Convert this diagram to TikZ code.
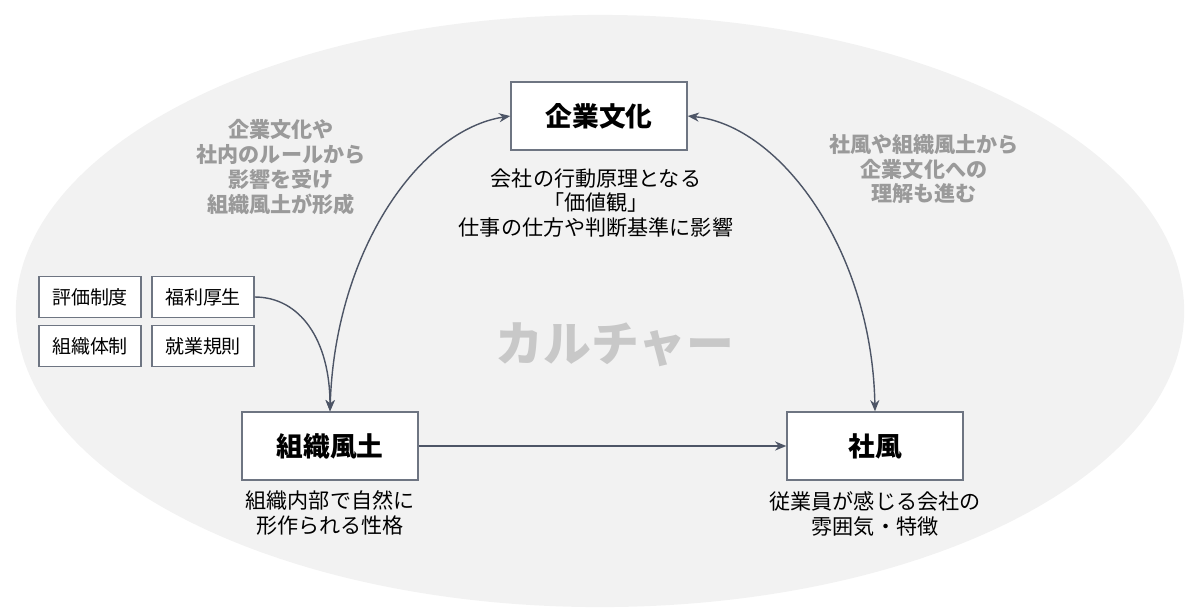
\documentclass[tikz,border=0pt]{standalone}
\usepackage{fontspec}
\setmainfont{Noto Sans CJK JP}
\usetikzlibrary{arrows.meta}
\definecolor{bggray}{HTML}{F2F2F2}
\definecolor{edgegray}{HTML}{6E7582}
\definecolor{linegray}{HTML}{4D5566}
\definecolor{memogray}{HTML}{9A9A9A}
\definecolor{titlegray}{HTML}{C8C8C8}

\begin{document}
\begin{tikzpicture}[x=0.025cm,y=-0.025cm,
    box/.style={draw=edgegray,line width=1pt,fill=white,minimum width=4.4cm,minimum height=1.7cm,font={\fontsize{19}{22}\selectfont\bfseries}},
    tag/.style={draw=edgegray,line width=1pt,fill=white,minimum width=2.55cm,minimum height=1.02cm,font={\fontsize{13.5}{16}\selectfont}},
    desc/.style={align=center,font={\fontsize{15}{17.7}\selectfont}},
    memo/.style={align=center,text=memogray,font={\fontsize{15}{17.7}\selectfont\bfseries}},
    link/.style={draw=linegray,line width=1pt,-{Stealth[length=8pt,width=6.5pt]}},
    twoway/.style={link,{Stealth[length=8pt,width=6.5pt]}-{Stealth[length=8pt,width=6.5pt]}}]
    \useasboundingbox (0,0) rectangle (1200,614);
    \fill[bggray] (600,311) ellipse [x radius=14.6cm, y radius=7.4cm];

    \node[text=titlegray,font={\fontsize{34}{40}\selectfont\bfseries}] (culture) at (615,345) {カルチャー};

    % main boxes
    \node[box] (corp) at (599,116) {企業文化};
    \node[box] (climate) at (330,446) {組織風土};
    \node[box] (shafu) at (875,446) {社風};

    \node[desc] (corpdesc) at (596,203) {会社の行動原理となる\\「価値観」\\仕事の仕方や判断基準に影響};
    \node[desc] (climatedesc) at (330,513) {組織内部で自然に\\形作られる性格};
    \node[desc] (shafudesc) at (875,514) {従業員が感じる会社の\\雰囲気・特徴};

    % small boxes
    \node[tag] (hyoka) at (90,297) {評価制度};
    \node[tag] (fukuri) at (203,297) {福利厚生};
    \node[tag] (taisei) at (90,346) {組織体制};
    \node[tag] (kisoku) at (203,346) {就業規則};

    % notes
    \node[memo] (leftmemo) at (281,167) {企業文化や\\社内のルールから\\影響を受け\\組織風土が形成};
    \node[memo] (rightmemo) at (924,169) {社風や組織風土から\\企業文化への\\理解も進む};

    \draw[twoway] (climate.north) .. controls (335,250) and (420,130) .. (corp.west);
    \draw[twoway] (corp.east) .. controls (780,125) and (872,250) .. (shafu.north);
    \draw[link] (fukuri.east) .. controls (300,297) and (330,340) .. (climate.north);
    \draw[link] (climate) -- (shafu);
\end{tikzpicture}
\end{document}
